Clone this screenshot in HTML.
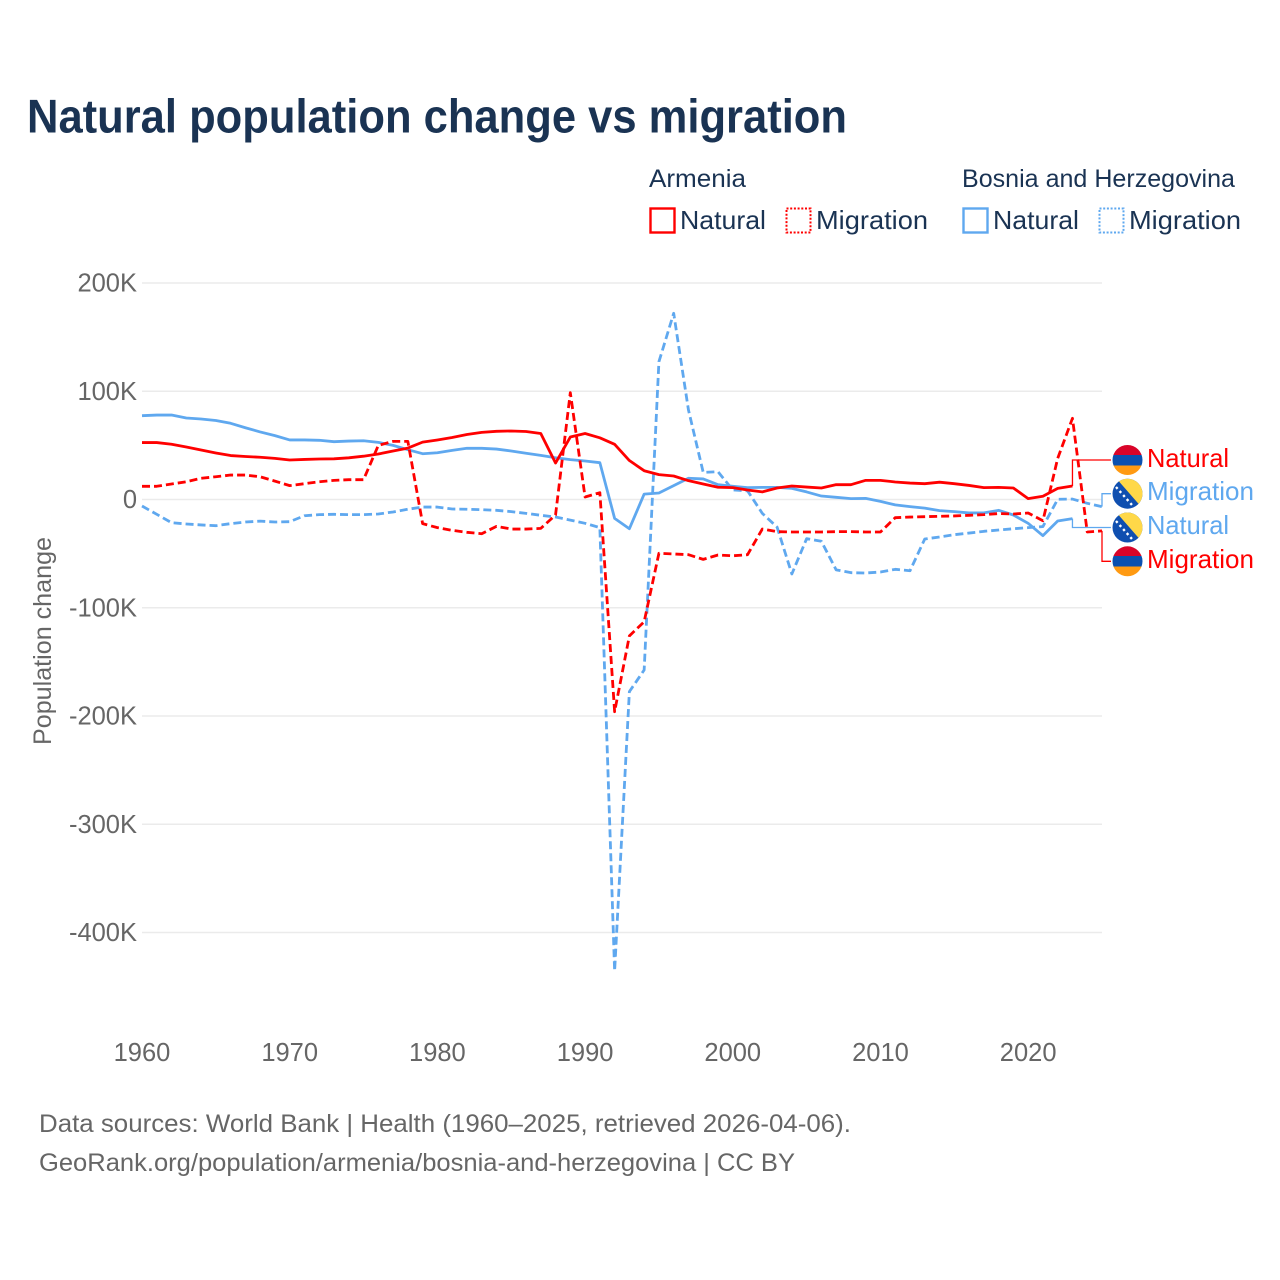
<!DOCTYPE html>
<html lang="en">
<head>
<meta charset="utf-8">
<title>Natural population change vs migration</title>
<style>
html,body{margin:0;padding:0;background:#fff;width:1280px;height:1280px;overflow:hidden}
svg{display:block}
text{font-family:"Liberation Sans",sans-serif}
.navy{fill:#1a3353}
.grey{fill:#666}
</style>
</head>
<body>
<svg id="chart" xmlns="http://www.w3.org/2000/svg" width="1280" height="1280" viewBox="0 0 1280 1280">
  <rect width="1280" height="1280" fill="#fff"/>
  <text class="navy" x="27" y="132.5" font-size="47" font-weight="700" textLength="820" lengthAdjust="spacingAndGlyphs">Natural population change vs migration</text>

  <g>
    <text class="navy" x="649" y="187" font-size="25" textLength="97" lengthAdjust="spacingAndGlyphs">Armenia</text>
    <text class="navy" x="962" y="187" font-size="25" textLength="273" lengthAdjust="spacingAndGlyphs">Bosnia and Herzegovina</text>

    <rect x="650.5" y="208.5" width="24" height="24" fill="none" stroke="#ff0000" stroke-width="2.4"/>
    <text class="navy" x="680" y="229" font-size="26" textLength="86" lengthAdjust="spacingAndGlyphs">Natural</text>
    <rect x="786.5" y="208.5" width="24" height="24" fill="none" stroke="#ff0000" stroke-width="2" stroke-dasharray="2 1.7"/>
    <text class="navy" x="816" y="229" font-size="26" textLength="112" lengthAdjust="spacingAndGlyphs">Migration</text>

    <rect x="963.5" y="208.5" width="24" height="24" fill="none" stroke="#5fa8ef" stroke-width="2.4"/>
    <text class="navy" x="993" y="229" font-size="26" textLength="86" lengthAdjust="spacingAndGlyphs">Natural</text>
    <rect x="1099.5" y="208.5" width="24" height="24" fill="none" stroke="#5fa8ef" stroke-width="2" stroke-dasharray="2 1.7"/>
    <text class="navy" x="1129" y="229" font-size="26" textLength="112" lengthAdjust="spacingAndGlyphs">Migration</text>
  </g>

  <g id="grid"></g>
  <g id="yticks"></g>
  <g id="xticks"></g>
  <text class="grey" transform="translate(51,641) rotate(-90)" text-anchor="middle" font-size="25" textLength="208" lengthAdjust="spacingAndGlyphs">Population change</text>
  <g id="series"></g>
  <g id="leaders"></g>

  <defs>
    <clipPath id="flag-clip-1"><circle cx="1127.5" cy="460" r="15"/></clipPath>
    <clipPath id="flag-clip-2"><circle cx="1127.5" cy="493.7" r="15"/></clipPath>
    <clipPath id="flag-clip-3"><circle cx="1127.5" cy="527.5" r="15"/></clipPath>
    <clipPath id="flag-clip-4"><circle cx="1127.5" cy="561.3" r="15"/></clipPath>
  </defs>

  <g clip-path="url(#flag-clip-1)">
    <rect x="1112" y="445" width="31" height="10" fill="#d90429"/>
    <rect x="1112" y="455" width="31" height="10.5" fill="#0a50b0"/>
    <rect x="1112" y="465.5" width="31" height="10" fill="#ff9a12"/>
  </g>
  <g clip-path="url(#flag-clip-2)">
    <rect x="1112" y="478" width="31" height="31" fill="#0f4fb0"/>
    <polygon points="1116,478 1143,478 1143,509" fill="#ffd848"/>
    <path d="M1116 487l16 18" stroke="#fff" stroke-width="2.4" stroke-dasharray="2.4 3" fill="none"/>
  </g>
  <g clip-path="url(#flag-clip-3)">
    <rect x="1112" y="512" width="31" height="31" fill="#0f4fb0"/>
    <polygon points="1116,512 1143,512 1143,543" fill="#ffd848"/>
    <path d="M1116 521l16 18" stroke="#fff" stroke-width="2.4" stroke-dasharray="2.4 3" fill="none"/>
  </g>
  <g clip-path="url(#flag-clip-4)">
    <rect x="1112" y="546" width="31" height="10" fill="#d90429"/>
    <rect x="1112" y="556" width="31" height="10.5" fill="#0a50b0"/>
    <rect x="1112" y="566.5" width="31" height="10" fill="#ff9a12"/>
  </g>

  <text fill="#ff0000" x="1147" y="467" font-size="26" textLength="82" lengthAdjust="spacingAndGlyphs">Natural</text>
  <text fill="#5fa8ef" x="1147" y="500" font-size="26" textLength="107" lengthAdjust="spacingAndGlyphs">Migration</text>
  <text fill="#5fa8ef" x="1147" y="534" font-size="26" textLength="82" lengthAdjust="spacingAndGlyphs">Natural</text>
  <text fill="#ff0000" x="1147" y="568" font-size="26" textLength="107" lengthAdjust="spacingAndGlyphs">Migration</text>

  <text class="grey" x="39" y="1132" font-size="25" textLength="812" lengthAdjust="spacingAndGlyphs">Data sources: World Bank | Health (1960–2025, retrieved 2026-04-06).</text>
  <text class="grey" x="39" y="1171" font-size="25" textLength="756" lengthAdjust="spacingAndGlyphs">GeoRank.org/population/armenia/bosnia-and-herzegovina | CC BY</text>
</svg>

<script>
// Values in thousands of people. First point of every series is 1960.
const startYear = 1960;
const xTickYears = [1960, 1970, 1980, 1990, 2000, 2010, 2020];
const yTickValues = [200, 100, 0, -100, -200, -300, -400];
const yTickLabels = ["200K", "100K", "0", "-100K", "-200K", "-300K", "-400K"];

const armeniaNatural = [52.6,52.6,51,48.5,45.7,43,40.6,39.7,39,38,36.5,37,37.4,37.6,38.5,40,42,44.8,47.5,53,55,57.3,60,62,63,63.3,62.8,61,33.7,57.7,61,57,51,36,26.6,23,21.7,17.4,14.3,11.3,11,8.8,7,10.6,12.5,11.5,10.6,13.7,13.7,17.7,17.7,16.2,15.2,14.6,16,14.6,13,11,11.2,10.6,0.8,3,10.3,12.5];
const armeniaMigration = [12.2,12.2,14.3,16.4,19.6,21,22.6,22.6,21,17,12.8,14.6,16.4,17.7,18.3,18.3,50,53.7,53.7,-22.3,-26,-28.5,-30.3,-31.6,-24.8,-27.3,-27.3,-26.7,-14.3,98.7,2.3,6.3,-196,-126,-113,-49.7,-50.3,-51,-55.3,-51.3,-52,-51,-27.3,-29.7,-30,-30,-30,-29.7,-29.7,-30,-30,-16.8,-16.2,-15.9,-15.5,-15.2,-14.6,-14,-13,-13.4,-12.5,-19.6,38,75,-30,-29];
const bosniaNatural = [77.4,78,78,75.3,74.4,73,70.4,66.3,62.4,59,55,55,54.7,53.4,54,54.3,52.8,50,46,42.3,43.2,45.4,47.3,47.3,46.6,44.8,42.7,40.8,38.6,36.8,35.6,34,-17.4,-27,5,6,12.8,19.6,19,13.7,12.2,11,11.2,11.2,10.3,7,3.2,2,0.8,1,-1.7,-5,-6.6,-8,-10.3,-11.2,-12.4,-12.4,-10,-14.3,-22,-33.4,-19.9,-17.7];
const bosniaMigration = [-6,-13.7,-21.4,-22.6,-23.5,-24.2,-22.3,-20.8,-20,-20.8,-20.5,-15,-14,-13.7,-14,-14,-13.4,-11.5,-9,-7,-7,-8.8,-9,-9.4,-10,-11.2,-12.8,-14.6,-16.2,-19,-22,-26,-435.5,-177.5,-157.5,127.3,172,82.7,25,25.7,8.8,8,-12.8,-25.5,-68.8,-36.2,-38.6,-65,-67.6,-67.9,-67,-64.5,-65.8,-36.5,-34.6,-32.5,-31,-29.4,-28.2,-27,-26,-25,0.2,0.4,-3.5,-6.6];

const SVGNS = "http://www.w3.org/2000/svg";
const plotLeft = 142, plotRight = 1102, zeroY = 499.5, pxPerK = 1.0825;
const x = yr => plotLeft + (yr - 1960) * (plotRight - plotLeft) / 65;
const y = v => zeroY - v * pxPerK;
const RED = "#ff0000", BLUE = "#5fa8ef";

function make(tag, attrs, parent) {
  const el = document.createElementNS(SVGNS, tag);
  for (const k in attrs) el.setAttribute(k, attrs[k]);
  parent.appendChild(el);
  return el;
}

const grid = document.getElementById("grid");
const yticks = document.getElementById("yticks");
const xticks = document.getElementById("xticks");
const seriesGroup = document.getElementById("series");
const leaders = document.getElementById("leaders");

yTickValues.forEach((v, i) => {
  const line = make("line", {x1: plotLeft, x2: plotRight, y1: y(v), y2: y(v), stroke: "#ebebeb", "stroke-width": 1.5}, grid);
  
  
  const t = make("text", {x: 137, y: y(v) + 8.5, "text-anchor": "end", "font-size": 25.5, class: "grey"}, yticks);
  
  
  t.textContent = yTickLabels[i];
});

xTickYears.forEach(yr => {
  const t = make("text", {x: x(yr), y: 1061, "text-anchor": "middle", "font-size": 25.5, class: "grey"}, xticks);
  
  
  t.textContent = yr;
});

function drawLine(values, color, dashed, name) {
  const pts = values.map((v, i) => x(startYear + i).toFixed(2) + "," + y(v).toFixed(2)).join(" ");
  const line = make("polyline", {points: pts, fill: "none", stroke: color, "stroke-width": 2.8, "stroke-linejoin": "round"}, seriesGroup);
  if (dashed) line.setAttribute("stroke-dasharray", "8 4");
  
  
}

function drawLeader(values, color, labelY, name) {
  const i = values.length - 1;
  const lx = x(startYear + i), ly = y(values[i]);
  const path = make("polyline", {points: `${lx},${ly} ${lx},${labelY} 1111,${labelY}`, fill: "none", stroke: color, "stroke-width": 1.3}, leaders);
  
  
}

drawLine(bosniaMigration, BLUE, true, "line-bosnia-migration");
drawLine(bosniaNatural, BLUE, false, "line-bosnia-natural");
drawLine(armeniaMigration, RED, true, "line-armenia-migration");
drawLine(armeniaNatural, RED, false, "line-armenia-natural");

drawLeader(armeniaNatural, RED, 460, "leader-armenia-natural");
drawLeader(bosniaMigration, BLUE, 493.7, "leader-bosnia-migration");
drawLeader(bosniaNatural, BLUE, 527.5, "leader-bosnia-natural");
drawLeader(armeniaMigration, RED, 561.3, "leader-armenia-migration");
</script>
</body>
</html>
